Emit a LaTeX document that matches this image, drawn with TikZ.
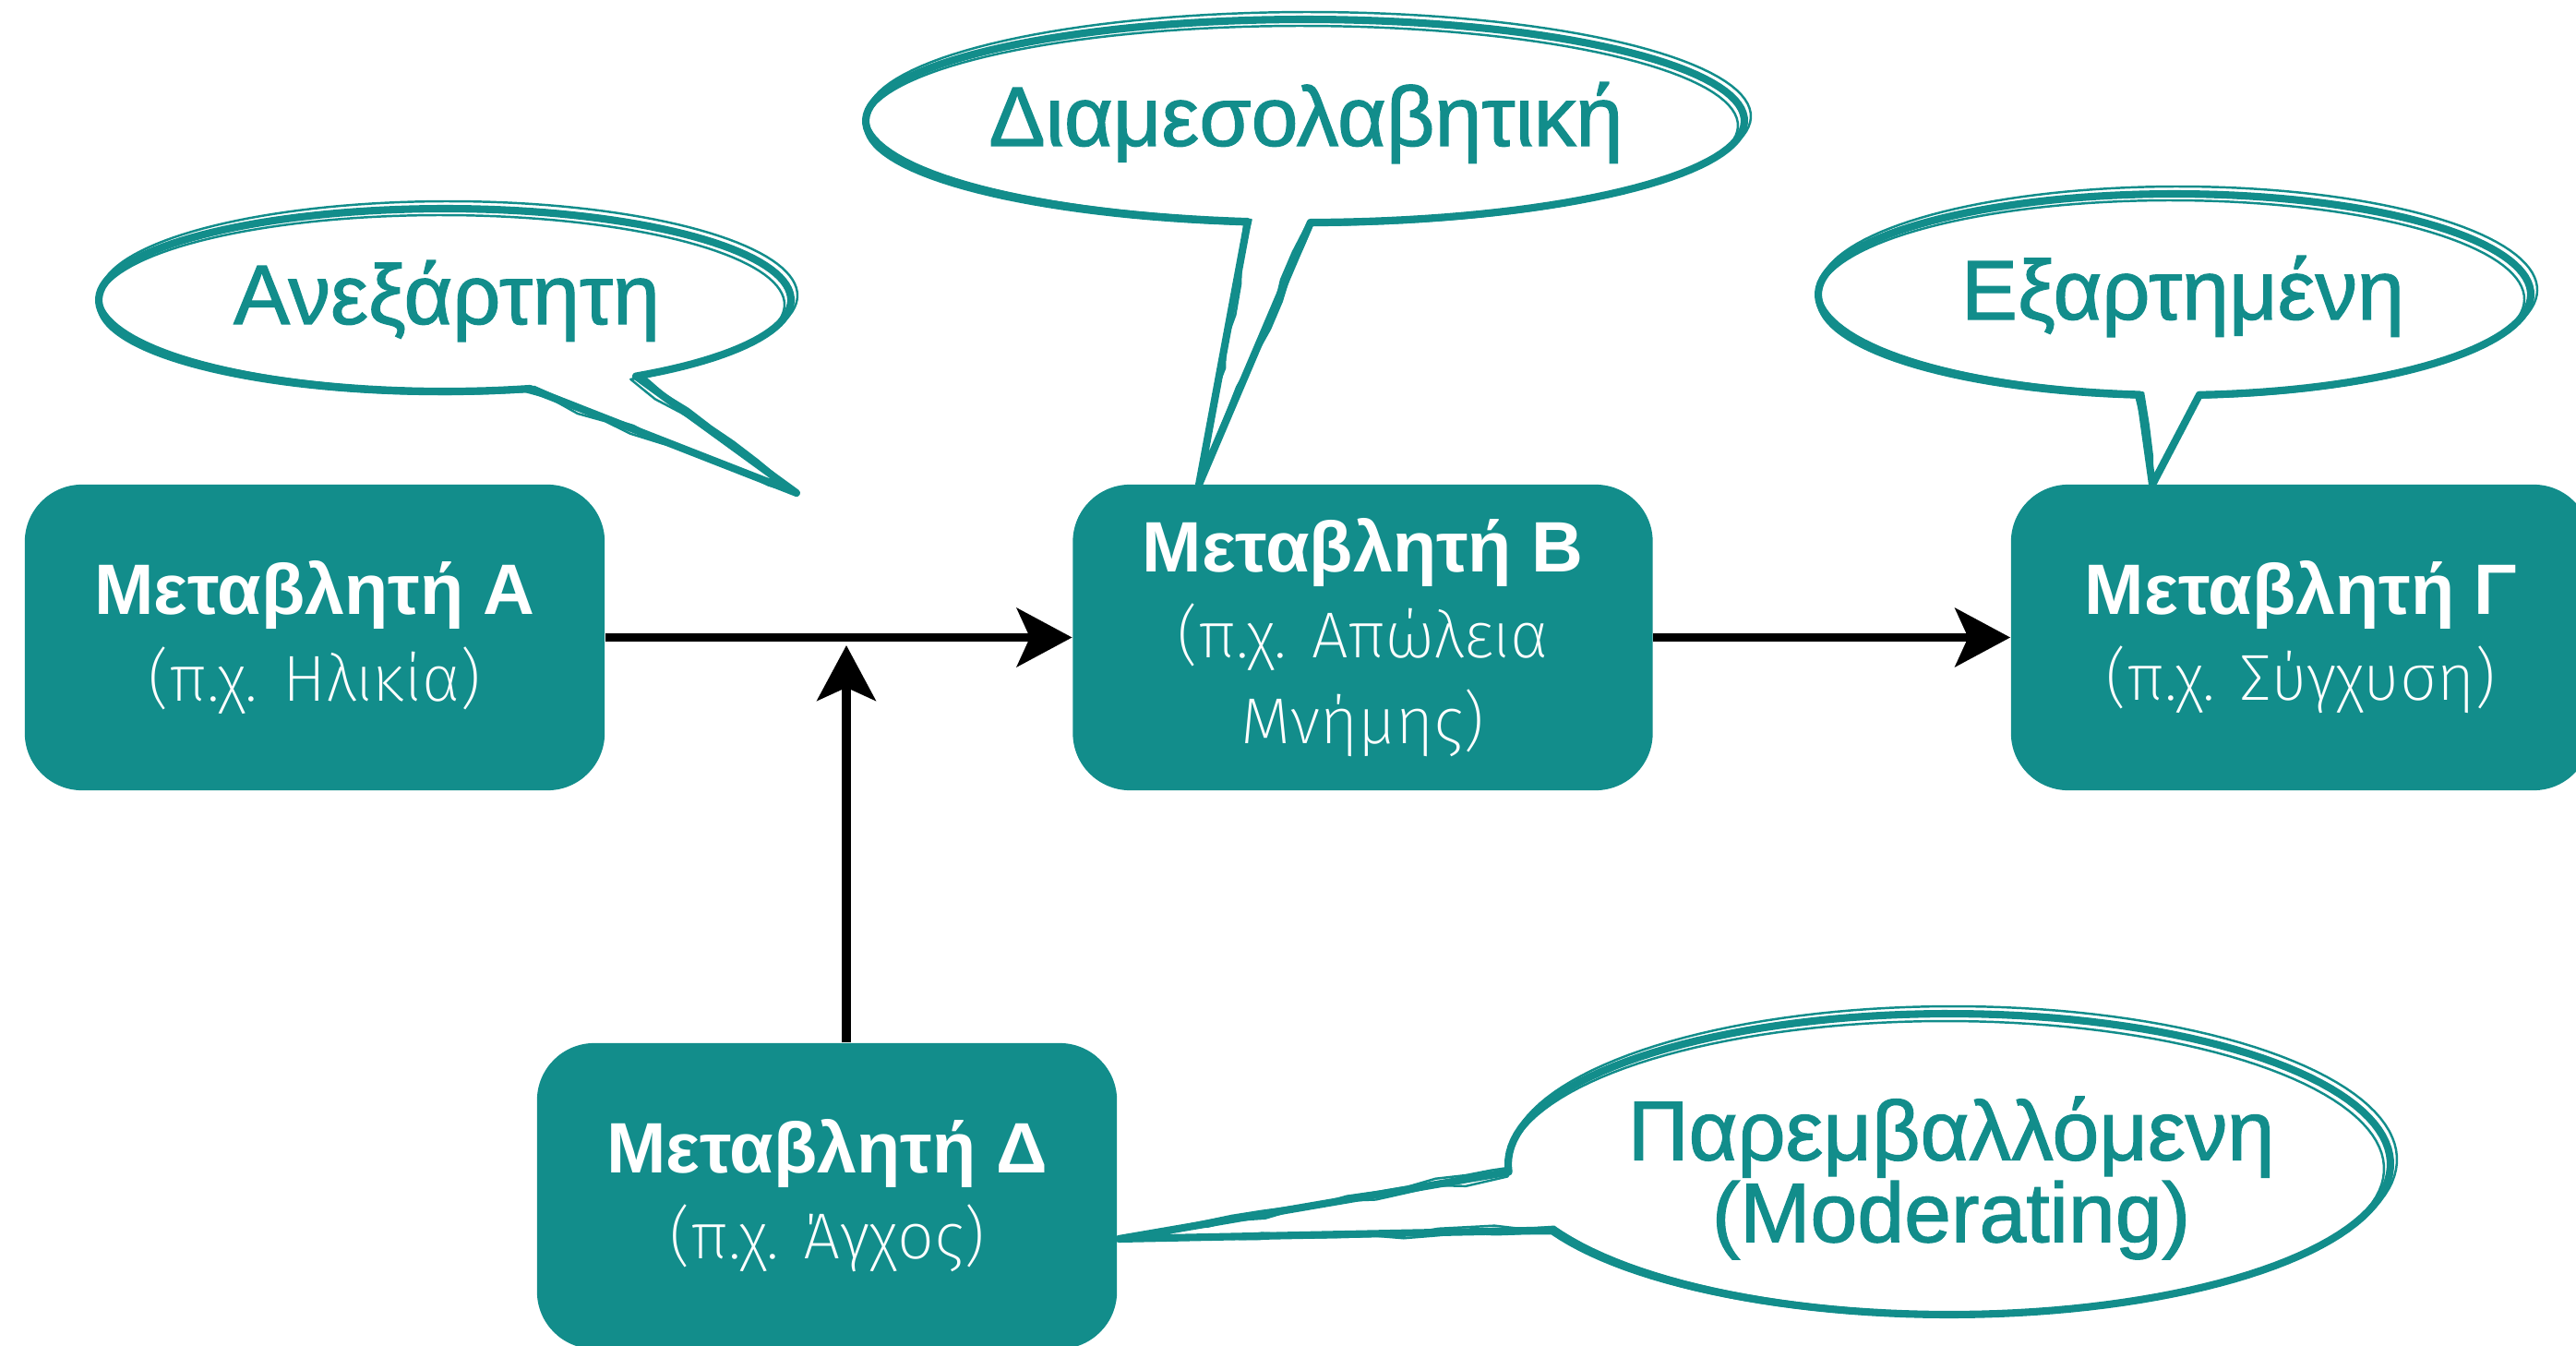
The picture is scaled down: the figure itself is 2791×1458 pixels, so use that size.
\documentclass[tikz,border=0pt]{standalone}
\usepackage{fontspec}
\setmainfont{Liberation Sans}
\newfontfamily\bubblefont{Liberation Sans}[FakeBold=1.3]
\newfontfamily\thinfont{Fira Sans ExtraLight}
\usetikzlibrary{arrows.meta,decorations.pathmorphing}

\definecolor{tealbox}{RGB}{18,141,139}

\tikzset{
  varbox/.style={fill=tealbox, rounded corners=0.62cm, minimum width=6.28cm,
    minimum height=3.31cm, text=white, align=center, inner sep=0pt,
    font=\fontsize{22}{26.5}\selectfont},
  flow/.style={line width=2.7pt, -{Stealth[length=17pt,width=18pt,inset=4pt]}},
  bubbleline/.style={draw=tealbox, line width=2.3pt, line join=round, fill=white},
  sketch/.style={draw=tealbox, line width=0.7pt, line join=round, decorate,
    decoration={random steps, segment length=9pt, amplitude=0.9pt}},
  bubbletext/.style={text=tealbox, align=center,
    font=\bubblefont\fontsize{26}{22.5}\selectfont},
}
\newcommand\subtext[1]{{\thinfont\fontsize{20}{26.5}\selectfont #1}}

\begin{document}
\begin{tikzpicture}[x=0.01cm, y=-0.01cm]
\useasboundingbox (0,0) rectangle (2791,1458);
\clip (0,0) rectangle (2791,1458);
\pgfmathsetseed{7}

% tail tips of the bubbles
\coordinate (tipA) at (863,534);
\coordinate (tipB) at (1299,525);
\coordinate (tipC) at (2332,525);
\coordinate (tipD) at (1212,1342);

% speech bubbles: filled outline plus two loose sketch strokes
\path[bubbleline] (tipA) -- plot[domain=75.8:416.5, samples=140] ({482+375*cos(\x)}, {325+99*sin(\x)}) -- cycle;
\draw[sketch, shift={(4,-5)}] (tipA) -- plot[domain=75.8:416.5, samples=140] ({482+378*cos(\x)}, {325+102*sin(\x)}) -- cycle;
\draw[sketch, shift={(-4,5)}] (tipA) -- plot[domain=75.8:416.5, samples=140] ({482+372*cos(\x)}, {325+97*sin(\x)}) -- cycle;

\path[bubbleline] (tipB) -- plot[domain=97.5:449.3, samples=140] ({1414+476*cos(\x)}, {131+110*sin(\x)}) -- cycle;
\draw[sketch, shift={(4,-5)}] (tipB) -- plot[domain=97.5:449.3, samples=140] ({1414+479*cos(\x)}, {131+113*sin(\x)}) -- cycle;
\draw[sketch, shift={(-4,5)}] (tipB) -- plot[domain=97.5:449.3, samples=140] ({1414+473*cos(\x)}, {131+108*sin(\x)}) -- cycle;

\path[bubbleline] (tipC) -- plot[domain=95.6:446.0, samples=140] ({2356+386*cos(\x)}, {319+109*sin(\x)}) -- cycle;
\draw[sketch, shift={(4,-5)}] (tipC) -- plot[domain=95.6:446.0, samples=140] ({2356+389*cos(\x)}, {319+112*sin(\x)}) -- cycle;
\draw[sketch, shift={(-4,5)}] (tipC) -- plot[domain=95.6:446.0, samples=140] ({2356+383*cos(\x)}, {319+107*sin(\x)}) -- cycle;

\path[bubbleline] (tipD) -- plot[domain=177:514, samples=140] ({2112+478*cos(\x)}, {1261+163*sin(\x)}) -- cycle;
\draw[sketch, shift={(4,-5)}] (tipD) -- plot[domain=177:514, samples=140] ({2112+481*cos(\x)}, {1261+166*sin(\x)}) -- cycle;
\draw[sketch, shift={(-4,5)}] (tipD) -- plot[domain=177:514, samples=140] ({2112+475*cos(\x)}, {1261+160*sin(\x)}) -- cycle;

% bubble labels
\node[bubbletext] (tA) at (484,326) {Ανεξάρτητη};
\node[bubbletext] (tB) at (1415,133) {Διαμεσολαβητική};
\node[bubbletext] (tC) at (2365,321) {Εξαρτημένη};
\node[bubbletext] (tD) at (2114,1276) {Παρεμβαλλόμενη\\(Moderating)};

% variable boxes
\node[varbox] (A) at (341,690.5)
  {{\bfseries Μεταβλητή Α}\\\subtext{(π.χ. Ηλικία)}};
\node[varbox] (B) at (1476.5,690.5)
  {{\bfseries Μεταβλητή Β}\\\subtext{(π.χ. Απώλεια}\\\subtext{Μνήμης)}};
\node[varbox] (C) at (2493,690.5)
  {{\bfseries Μεταβλητή Γ}\\\subtext{(π.χ. Σύγχυση)}};
\node[varbox] (D) at (896,1295.5)
  {{\bfseries Μεταβλητή Δ}\\\subtext{(π.χ. Άγχος)}};

% arrows
\coordinate (join) at (917,699);
\draw[flow] (A) -- (B);
\draw[flow] (B) -- (C);
\draw[flow] (D.north -| join) -- (join);
\end{tikzpicture}
\end{document}
